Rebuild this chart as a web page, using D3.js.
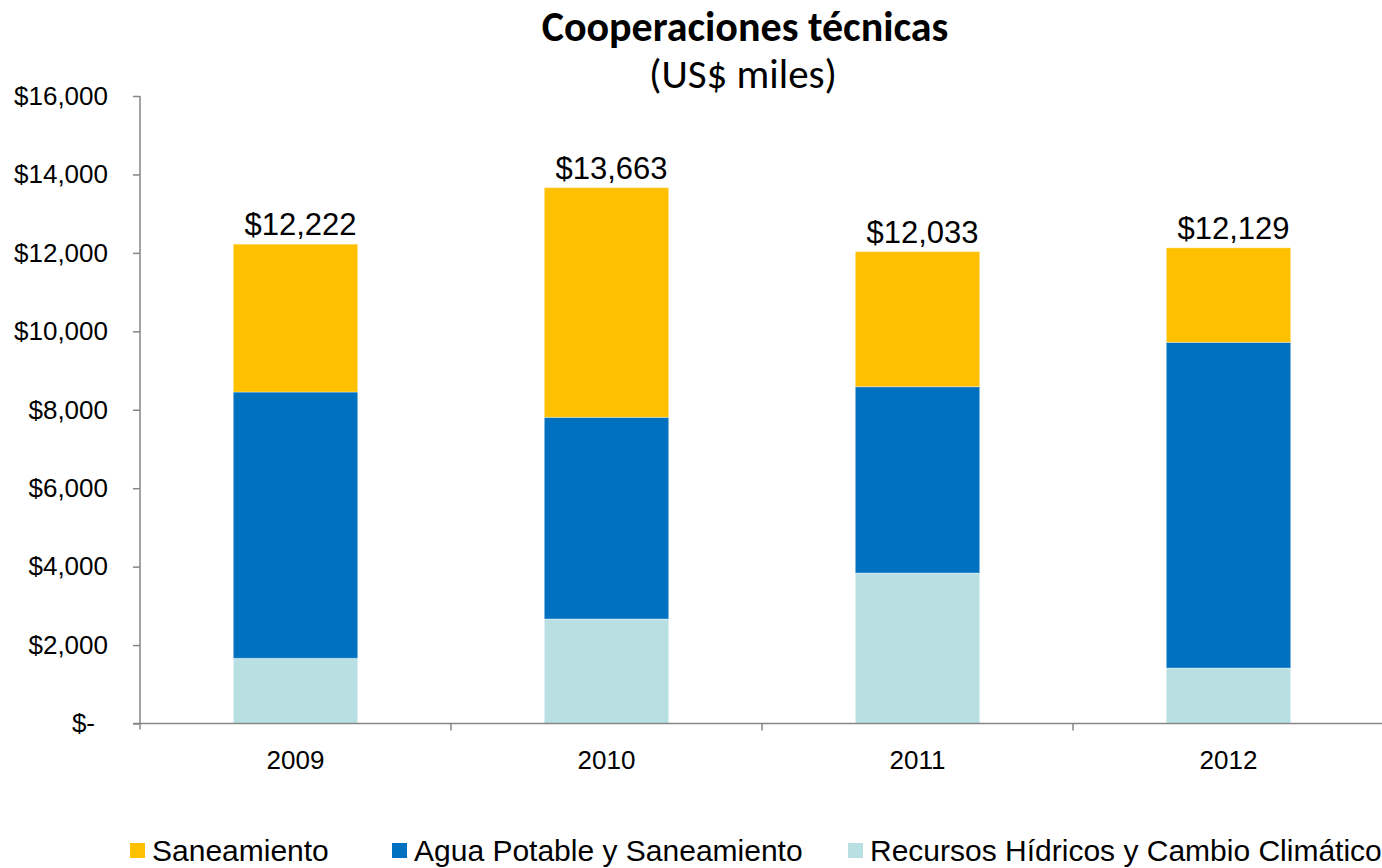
<!DOCTYPE html>
<html>
<head>
<meta charset="utf-8">
<script src="https://cdn.jsdelivr.net/npm/d3@7"></script>
<style>
  body { margin: 0; background: #fff; }
  svg { display: block; }
</style>
</head>
<body>
<script>
// chart data
var years = ["2009", "2010", "2011", "2012"];
var seriesNames = ["Recursos Hídricos y Cambio Climático", "Agua Potable y Saneamiento", "Saneamiento"];
var recursos = [1662, 2665, 3837, 1415];
var agua = [6790, 5142, 4751, 8304];
var saneamiento = [3770, 5856, 3445, 2410];
var totals = [12222, 13663, 12033, 12129];
var yTicks = [0, 2000, 4000, 6000, 8000, 10000, 12000, 14000, 16000];
var legendOrder = ["Saneamiento", "Agua Potable y Saneamiento", "Recursos Hídricos y Cambio Climático"];

let chart = function() {
    let w = 1382;
    let h = 868;
    let left = 140, right = 1384, top = 96, bottom = 723.5;

    let colors = {
        "Saneamiento": "#FFC000",
        "Agua Potable y Saneamiento": "#0070C0",
        "Recursos Hídricos y Cambio Climático": "#B8E0E2"
    };

    let svg = d3.select("body")
        .append("svg")
        .attr("width", w)
        .attr("height", h);

    let x = d3.scaleBand().domain(years).range([left, right]).padding(0);
    let y = d3.scaleLinear().domain([0, 16000]).range([bottom, top]);

    // build rows for the stack
    let rows = years.map(function(yr, i) {
        return {
            year: yr,
            "Recursos Hídricos y Cambio Climático": recursos[i],
            "Agua Potable y Saneamiento": agua[i],
            "Saneamiento": saneamiento[i]
        };
    });
    let stacked = d3.stack().keys(seriesNames)(rows);

    let barW = x.bandwidth() * 0.4;

    // Title
    svg.append("text")
        .attr("x", 745).attr("y", 41)
        .attr("text-anchor", "middle")
        .attr("font-family", "Carlito, Lato, sans-serif")
        .attr("font-weight", "bold")
        .attr("font-size", "42px")
        .text("Cooperaciones técnicas");
    svg.append("text")
        .attr("x", 743).attr("y", 88)
        .attr("text-anchor", "middle")
        .attr("font-family", "Carlito, Lato, sans-serif")
        .attr("font-size", "41px")
        .text("(US$ miles)");

    // Bars
    svg.selectAll("g.series")
        .data(stacked)
        .enter()
        .append("g")
        .attr("class", "series")
        .attr("fill", function(d) { return colors[d.key]; })
        .selectAll("rect")
        .data(function(d) { return d; })
        .enter()
        .append("rect")
        .attr("x", function(d) { return x(d.data.year) + (x.bandwidth() - barW) / 2; })
        .attr("y", function(d) { return y(d[1]); })
        .attr("width", barW)
        .attr("height", function(d) { return y(d[0]) - y(d[1]); })
        .attr("stroke", "#ffffff")
        .attr("stroke-opacity", 0.35)
        .attr("stroke-width", 1);

    // Total labels
    svg.selectAll("text.total")
        .data(totals)
        .enter()
        .append("text")
        .attr("class", "total")
        .attr("x", function(d, i) { return x(years[i]) + x.bandwidth() / 2 + 5; })
        .attr("y", function(d) { return y(d) - 9; })
        .attr("text-anchor", "middle")
        .attr("font-family", "Liberation Sans, Arial, sans-serif")
        .attr("font-size", "31px")
        .attr("fill", "#000")
        .text(function(d) { return "$" + d3.format(",")(d); });

    // Y axis
    let yAxis = d3.axisLeft(y)
        .tickValues(yTicks)
        .tickSize(7)
        .tickPadding(25)
        .tickFormat(function(d) { return d === 0 ? "$-" : "$" + d3.format(",")(d); });
    let gy = svg.append("g")
        .attr("transform", "translate(" + left + ",0)")
        .call(yAxis);
    gy.select(".domain").attr("stroke", "#868686").attr("stroke-width", 1.5)
        .attr("d", "M0," + top + "V" + (bottom + 6));
    gy.selectAll(".tick line").attr("stroke", "#868686").attr("stroke-width", 1.5);
    gy.selectAll(".tick text")
        .attr("font-family", "Liberation Sans, Arial, sans-serif")
        .attr("font-size", "26px")
        .attr("fill", "#000")
        .attr("dx", function(d) { return d === 0 ? -13 : 0; });

    // X axis
    let gx = svg.append("g")
        .attr("transform", "translate(0," + bottom + ")");
    gx.append("line")
        .attr("x1", left - 7).attr("x2", right)
        .attr("stroke", "#868686").attr("stroke-width", 1.5);
    gx.selectAll("line.tick")
        .data(years.slice(1))
        .enter()
        .append("line")
        .attr("class", "tick")
        .attr("x1", function(d) { return x(d); })
        .attr("x2", function(d) { return x(d); })
        .attr("y1", 0).attr("y2", 7)
        .attr("stroke", "#868686").attr("stroke-width", 1.5);
    gx.selectAll("text")
        .data(years)
        .enter()
        .append("text")
        .attr("x", function(d) { return x(d) + x.bandwidth() / 2; })
        .attr("y", 45)
        .attr("text-anchor", "middle")
        .attr("font-family", "Liberation Sans, Arial, sans-serif")
        .attr("font-size", "26px")
        .attr("fill", "#000")
        .text(function(d) { return d; });

    // Legend
    let legX = [130, 392, 848];
    let leg = svg.selectAll("g.legend")
        .data(legendOrder)
        .enter()
        .append("g")
        .attr("class", "legend")
        .attr("transform", function(d, i) { return "translate(" + legX[i] + ",843)"; });
    leg.append("rect")
        .attr("width", 15).attr("height", 15)
        .attr("fill", function(d) { return colors[d]; });
    leg.append("text")
        .attr("x", 22).attr("y", 18)
        .attr("font-family", "Liberation Sans, Arial, sans-serif")
        .attr("font-size", "30px")
        .attr("fill", "#000")
        .text(function(d) { return d; });
}

chart();
</script>
</body>
</html>
